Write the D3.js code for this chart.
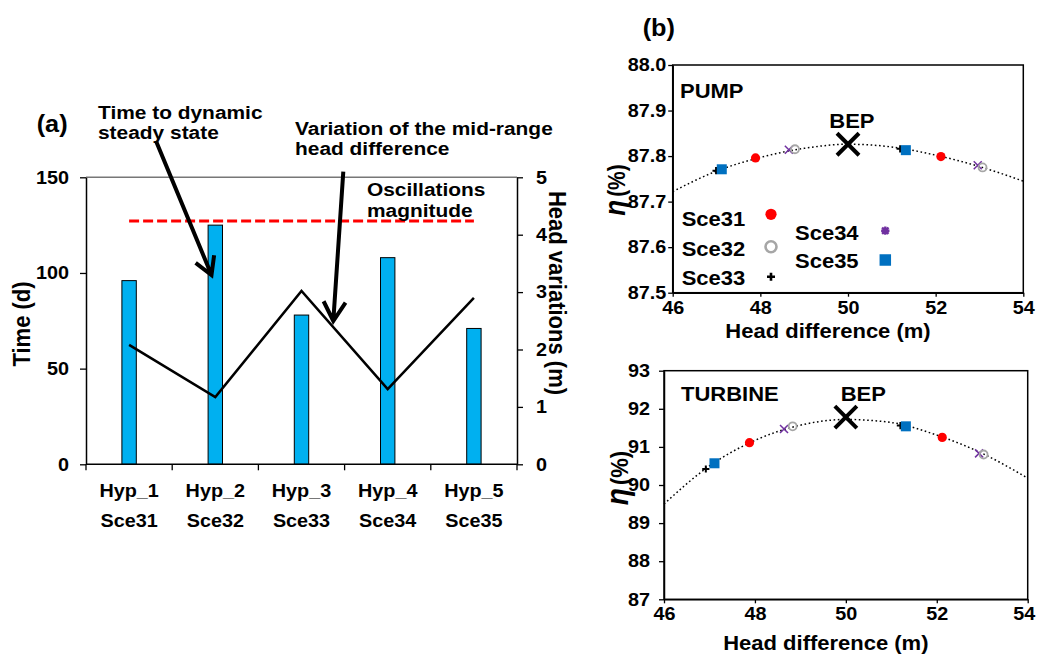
<!DOCTYPE html>
<html>
<head>
<meta charset="utf-8">
<script src="https://cdn.jsdelivr.net/npm/d3@7"></script>
<style>
body { margin: 0; background: #fff; }
svg { display: block; background: #fff; }
text { font-family: "Liberation Sans", Arial, sans-serif; font-weight: bold; fill: #000; }
</style>
</head>
<body>
<svg id="chart" width="1037" height="655"></svg>
<script>
// ---- panel (a) data
var hypLabels = ["Hyp_1", "Hyp_2", "Hyp_3", "Hyp_4", "Hyp_5"];
var sceLabels = ["Sce31", "Sce32", "Sce33", "Sce34", "Sce35"];
var timeDays = [96, 125, 78, 108, 71];
var headVariation = [2.08, 1.17, 3.02, 1.31, 2.90];
var oscillationMagnitude = 4.24;
var timeTicks = [0, 50, 100, 150];
var headVarTicks = [0, 1, 2, 3, 4, 5];

// ---- panel (b) data
var headTicks = [46, 48, 50, 52, 54];
var pumpTicks = [87.5, 87.6, 87.7, 87.8, 87.9, 88.0];
var turbineTicks = [87, 88, 89, 90, 91, 92, 93];
var curveHead = [46, 47, 48, 49, 50, 51, 52, 53, 54];
var pumpCurve = [87.722, 87.767, 87.797, 87.817, 87.826, 87.820, 87.802, 87.777, 87.745];
var turbineCurve = [89.50, 90.50, 91.17, 91.57, 91.72, 91.64, 91.31, 90.83, 90.18];
var pumpBEP = [50, 87.826];
var turbineBEP = [50, 91.78];

var pumpSce31 = [[47.89, 87.796], [52.12, 87.799]];
var pumpSce32 = [[48.79, 87.815], [53.07, 87.775]];
var pumpSce33 = [[46.99, 87.768], [51.19, 87.816]];
var pumpSce34 = [[48.65, 87.814], [52.96, 87.780]];
var pumpSce35 = [[47.12, 87.771], [51.32, 87.813]];

var turbSce31 = [[47.88, 91.11], [52.12, 91.25]];
var turbSce32 = [[48.83, 91.54], [53.03, 90.80]];
var turbSce33 = [[46.92, 90.42], [51.20, 91.56]];
var turbSce34 = [[48.64, 91.47], [52.93, 90.83]];
var turbSce35 = [[47.11, 90.57], [51.32, 91.54]];

// drawing order: plus, square, times, ring, dot
var scenarios = [
  {name: "Sce33", kind: "plus", pump: pumpSce33, turb: turbSce33},
  {name: "Sce35", kind: "square", pump: pumpSce35, turb: turbSce35},
  {name: "Sce34", kind: "times", pump: pumpSce34, turb: turbSce34},
  {name: "Sce32", kind: "ring", pump: pumpSce32, turb: turbSce32},
  {name: "Sce31", kind: "dot", pump: pumpSce31, turb: turbSce31}
];

var SX = 1.1; // the original figure is stretched a bit sideways
var svg = d3.select("#chart");

function label(g, x, y, str, size, anchor, rot) {
  return g.append("text")
    .attr("font-size", size)
    .attr("text-anchor", anchor || "start")
    .attr("transform", "translate(" + x + "," + y + ") scale(" + SX + ",1)" + (rot ? " rotate(" + rot + ")" : ""))
    .text(str);
}

function styleAxis(g, size) {
  g.attr("font-size", size).attr("font-family", null);
  g.selectAll(".tick line").attr("stroke", "#000").attr("stroke-width", 1.3);
  g.selectAll(".domain").attr("stroke", "#000").attr("stroke-width", 1.5);
  g.selectAll(".tick text").each(function() {
    var t = d3.select(this);
    var x = +t.attr("x") || 0, y = +t.attr("y") || 0;
    t.attr("x", 0).attr("y", 0).attr("fill", "#000")
      .attr("transform", "translate(" + x + "," + y + ") scale(" + SX + ",1)");
  });
}

// ================= panel (a)
var a = svg.append("g");
var xBand = d3.scaleBand().domain(hypLabels).range([86, 517]);
var yTime = d3.scaleLinear().domain([0, 150]).range([464.3, 177.3]);
var yHead = d3.scaleLinear().domain([0, 5]).range([464.3, 177.3]);
var cx = function(i) { return xBand(hypLabels[i]) + xBand.bandwidth() / 2; };

// top frame line
a.append("line")
  .attr("x1", 86).attr("x2", 517).attr("y1", yTime(150)).attr("y2", yTime(150))
  .attr("stroke", "#777").attr("stroke-width", 1.5);

a.selectAll(".bar")
  .data(timeDays)
  .enter().append("rect")
  .attr("class", "bar")
  .attr("x", function(d, i) { return cx(i) - 7.2; })
  .attr("width", 14.4)
  .attr("y", function(d) { return yTime(d); })
  .attr("height", function(d) { return yTime(0) - yTime(d); })
  .attr("fill", "#00b0f0")
  .attr("stroke", "#000")
  .attr("stroke-width", 1);

a.append("line")
  .attr("x1", cx(0)).attr("x2", cx(4))
  .attr("y1", yHead(oscillationMagnitude)).attr("y2", yHead(oscillationMagnitude))
  .attr("stroke", "#ff0000").attr("stroke-width", 3).attr("stroke-dasharray", "10,4");

a.append("path")
  .datum(headVariation)
  .attr("d", d3.line().x(function(d, i) { return cx(i); }).y(function(d) { return yHead(d); }))
  .attr("fill", "none").attr("stroke", "#000").attr("stroke-width", 2.5);

var axL = a.append("g").attr("transform", "translate(86,0)")
  .call(d3.axisLeft(yTime).tickValues(timeTicks).tickSize(6).tickSizeOuter(0).tickPadding(11));
styleAxis(axL, 18);
var axR = a.append("g").attr("transform", "translate(517,0)")
  .call(d3.axisRight(yHead).tickValues(headVarTicks).tickFormat(d3.format("d"))
    .tickSize(6).tickSizeOuter(0).tickPadding(13));
styleAxis(axR, 18);

// category axis: ticks on band edges
var edges = hypLabels.map(function(h) { return xBand(h); }).concat([xBand.range()[1]]);
a.append("line").attr("x1", 86).attr("x2", 517).attr("y1", yTime(0)).attr("y2", yTime(0))
  .attr("stroke", "#000").attr("stroke-width", 1.5);
a.selectAll(".xtick").data(edges).enter().append("line")
  .attr("x1", function(d) { return d; }).attr("x2", function(d) { return d; })
  .attr("y1", yTime(0)).attr("y2", yTime(0) + 6)
  .attr("stroke", "#000").attr("stroke-width", 1.3);
hypLabels.forEach(function(h, i) {
  label(a, cx(i), 497, h, 18, "middle");
  label(a, cx(i), 527, sceLabels[i], 18, "middle");
});

label(a, 29.5, 324, "Time (d)", 22, "middle", -90);
label(a, 549, 293, "Head variations (m)", 22, "middle", 90);

label(a, 36.7, 132, "(a)", 23);
label(a, 98, 119.3, "Time to dynamic", 19);
label(a, 98, 139.3, "steady state", 19);
label(a, 295, 135, "Variation of the mid-range", 19);
label(a, 295, 154.5, "head difference", 19);
label(a, 367, 196, "Oscillations", 19);
label(a, 367, 217, "magnitude", 19);

function arrow(g, x1, y1, x2, y2, len) {
  var ang = Math.atan2(y1 - y2, x1 - x2), w = Math.PI / 6;
  var p = d3.path();
  p.moveTo(x1, y1); p.lineTo(x2, y2);
  p.moveTo(x2 + len * Math.cos(ang - w), y2 + len * Math.sin(ang - w));
  p.lineTo(x2, y2);
  p.lineTo(x2 + len * Math.cos(ang + w), y2 + len * Math.sin(ang + w));
  g.append("path").attr("d", p.toString())
    .attr("fill", "none").attr("stroke", "#000").attr("stroke-width", 4)
    .attr("stroke-linejoin", "miter");
}
arrow(a, 156, 141, 211.5, 275, 20);
arrow(a, 343.3, 171.7, 333.3, 321, 22);

// ================= panel (b)
label(svg, 642.7, 36, "(b)", 23);

function marker(g, kind, x, y, big) {
  var m = g.append("g").attr("transform", "translate(" + x + "," + y + ")");
  if (kind === "dot") {
    m.append("circle").attr("r", big ? 5.6 : 4.6).attr("fill", "#ff0000");
  } else if (kind === "ring") {
    m.append("circle").attr("r", big ? 5.5 : 4).attr("fill", "none")
      .attr("stroke", "#a6a6a6").attr("stroke-width", big ? 2.6 : 1.8);
  } else if (kind === "plus") {
    var s = big ? 4 : 3.6;
    m.append("path").attr("d", "M" + (-s) + ",0H" + s + "M0," + (-s) + "V" + s)
      .attr("stroke", "#000").attr("stroke-width", big ? 2.6 : 2);
  } else if (kind === "times") {
    var t = big ? 3.2 : 4;
    var d = "M" + (-t) + "," + (-t) + "L" + t + "," + t + "M" + (-t) + "," + t + "L" + t + "," + (-t);
    if (big) d += "M" + (-t * 1.3) + ",0H" + (t * 1.3) + "M0," + (-t * 1.3) + "V" + (t * 1.3);
    m.append("path").attr("d", d).attr("stroke", "#7030a0").attr("stroke-width", big ? 2.4 : 1.5);
  } else if (kind === "square") {
    var q = big ? 11.5 : 10;
    m.append("rect").attr("x", -q / 2).attr("y", -q / 2).attr("width", q).attr("height", q)
      .attr("fill", "#0070c0");
  }
}

function effPanel(cfg) {
  var g = svg.append("g");
  var x = d3.scaleLinear().domain([46, 54]).range([cfg.left, cfg.right]);
  var y = d3.scaleLinear().domain(cfg.yDomain).range([cfg.bottom, cfg.top]);

  var ay = g.append("g").attr("transform", "translate(" + cfg.left + ",0)")
    .call(d3.axisLeft(y).tickValues(cfg.yTicks).tickFormat(d3.format(cfg.fmt))
      .tickSize(cfg.ytick).tickSizeOuter(0).tickPadding(cfg.ypad));
  styleAxis(ay, 18);
  var ax = g.append("g").attr("transform", "translate(0," + cfg.bottom + ")")
    .call(d3.axisBottom(x).tickValues(headTicks).tickSize(4).tickSizeOuter(0).tickPadding(cfg.xpad));
  styleAxis(ax, 18);
  // keep the last tick label inside the page
  ax.selectAll(".tick text").filter(function(d) { return d === 54; }).each(function() {
    var t = d3.select(this), box = this.getBBox();
    var right = cfg.right + box.width * SX / 2;
    if (right > 1035) {
      t.attr("transform", t.attr("transform").replace(/translate\(([-\d.]+),/, "translate(" + (1035 - right) + ","));
    }
  });

  g.append("rect")
    .attr("x", cfg.left).attr("y", cfg.top)
    .attr("width", cfg.right - cfg.left).attr("height", cfg.bottom - cfg.top)
    .attr("fill", "none").attr("stroke", "#000").attr("stroke-width", 1.5);

  g.append("path")
    .datum(curveHead.map(function(h, i) { return [h, cfg.curve[i]]; }))
    .attr("d", d3.line().x(function(d) { return x(d[0]); }).y(function(d) { return y(d[1]); })
      .curve(d3.curveMonotoneX))
    .attr("fill", "none").attr("stroke", "#000").attr("stroke-width", 1.5)
    .attr("stroke-dasharray", "1.6,2.6");

  scenarios.forEach(function(s) {
    s[cfg.key].forEach(function(p) { marker(g, s.kind, x(p[0]), y(p[1]), false); });
  });

  var bx = x(cfg.bep[0]), by = y(cfg.bep[1]);
  g.append("path")
    .attr("d", "M" + (bx - 11) + "," + (by - 11) + "L" + (bx + 11) + "," + (by + 11) +
      "M" + (bx - 11) + "," + (by + 11) + "L" + (bx + 11) + "," + (by - 11))
    .attr("stroke", "#000").attr("stroke-width", 4);

  label(g, cfg.titleX, cfg.titleY, cfg.title, 20);
  label(g, cfg.bepX, cfg.bepY, "BEP", 20);
  label(g, (cfg.left + cfg.right) / 2 - 20, cfg.xlabY, "Head difference (m)", 20, "middle");

  var yl = g.append("text")
    .attr("text-anchor", "middle")
    .attr("transform", "translate(" + cfg.ylabX + "," + cfg.ylabY + ") scale(" + SX + ",1) rotate(-90)");
  yl.append("tspan").attr("font-size", cfg.etaSize).attr("font-style", "italic").text("η");
  yl.append("tspan").attr("font-size", cfg.pctSize).attr("dx", 3).text("(%)");
  return g;
}

var pump = effPanel({
  key: "pump", left: 672.7, right: 1023.3, top: 65, bottom: 292.7,
  yDomain: [87.5, 88.0], yTicks: pumpTicks, fmt: ".1f", ytick: 4.5, ypad: 2, xpad: 5,
  curve: pumpCurve, bep: pumpBEP,
  title: "PUMP", titleX: 680, titleY: 98.3, bepX: 829.3, bepY: 128.3,
  xlabY: 338, ylabX: 625, ylabY: 190, etaSize: 26, pctSize: 21
});

var turbine = effPanel({
  key: "turb", left: 664, right: 1027.7, top: 370.7, bottom: 599.3,
  yDomain: [87, 93], yTicks: turbineTicks, fmt: "d", ytick: 5, ypad: 9, xpad: 3.5,
  curve: turbineCurve, bep: turbineBEP,
  title: "TURBINE", titleX: 681, titleY: 400.7, bepX: 840.7, bepY: 400.7,
  xlabY: 650, ylabX: 628, ylabY: 478, etaSize: 28, pctSize: 22
});

// legend (pump panel)
var legendRows = [
  {name: "Sce31", kind: "dot", tx: 681.7, ty: 226, mx: 771, my: 214.3},
  {name: "Sce32", kind: "ring", tx: 681.7, ty: 256, mx: 771, my: 246.7},
  {name: "Sce33", kind: "plus", tx: 681.7, ty: 285, mx: 771, my: 276.7},
  {name: "Sce34", kind: "times", tx: 795, ty: 240, mx: 885.3, my: 230.7},
  {name: "Sce35", kind: "square", tx: 795, ty: 268.3, mx: 885.3, my: 260}
];
legendRows.forEach(function(r) {
  label(pump, r.tx, r.ty, r.name, 20);
  marker(pump, r.kind, r.mx, r.my, true);
});
</script>
</body>
</html>
